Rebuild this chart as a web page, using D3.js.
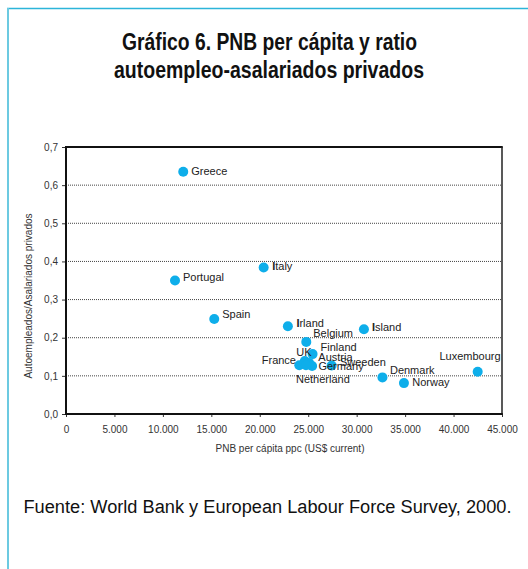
<!DOCTYPE html>
<html>
<head>
<meta charset="utf-8">
<script src="https://cdn.jsdelivr.net/npm/d3@7"></script>
<style>
  html, body { margin: 0; padding: 0; background: #fff; }
  svg { display: block; font-family: "Liberation Sans", Arial, sans-serif; }
</style>
</head>
<body>
<svg id="chart" width="528" height="569"></svg>
<script>
// GNP per capita (PPP, current US$) against the self-employed / private employees ratio
const countries = ["Greece", "Portugal", "Spain", "Italy", "Irland", "Island", "Belgium",
  "Finland", "UK", "France", "Austria", "Germany", "Netherland", "Sweeden",
  "Denmark", "Norway", "Luxembourg"];
const gnpPerCapita = [12100, 11250, 15300, 20400, 22900, 30750, 24800,
  25450, 24650, 24080, 25080, 25400, 24770, 27420,
  32660, 34880, 42490];
const selfEmployedRatio = [0.635, 0.350, 0.249, 0.384, 0.230, 0.222, 0.189,
  0.157, 0.139, 0.128, 0.134, 0.126, 0.128, 0.127,
  0.096, 0.081, 0.111];
const xTickValues = [0, 5000, 10000, 15000, 20000, 25000, 30000, 35000, 40000, 45000];
const xTickLabels = ["0", "5.000", "10.000", "15.000", "20.000", "25.000", "30.000", "35.000", "40.000", "45.000"];
const yTickValues = [0, 0.1, 0.2, 0.3, 0.4, 0.5, 0.6, 0.7];
const yTickLabels = ["0,0", "0,1", "0,2", "0,3", "0,4", "0,5", "0,6", "0,7"];

// Where each country name sits relative to its dot
const labelPlacement = {
  Greece:     { dx: 8,    dy: 3.5,  anchor: "start" },
  Portugal:   { dx: 8,    dy: 0,    anchor: "start" },
  Spain:      { dx: 8,    dy: -1,   anchor: "start" },
  Italy:      { dx: 8.5,  dy: 2.5,  anchor: "start" },
  Irland:     { dx: 8.5,  dy: 0.5,  anchor: "start" },
  Island:     { dx: 8,    dy: 1.5,  anchor: "start" },
  Belgium:    { dx: 7,    dy: -5,   anchor: "start" },
  Finland:    { dx: 8,    dy: -3,   anchor: "start" },
  UK:         { dx: 6.7,  dy: -5,   anchor: "end" },
  France:     { dx: -3.3, dy: -1,   anchor: "end" },
  Austria:    { dx: 9.3,  dy: -1.5, anchor: "start" },
  Germany:    { dx: 6.3,  dy: 4.5,  anchor: "start" },
  Netherland: { dx: -10,  dy: 18.3, anchor: "start" },
  Sweeden:    { dx: 8.3,  dy: 0.5,  anchor: "start" },
  Denmark:    { dx: 7.5,  dy: -3.5, anchor: "start" },
  Norway:     { dx: 8.3,  dy: 3,    anchor: "start" },
  Luxembourg: { dx: -7.7, dy: -11.7, anchor: "middle" }
};
const boldInitial = new Set(["Italy", "Irland", "Island"]);

const svg = d3.select("#chart");

// Page frame
svg.append("line").attr("x1", 7).attr("x2", 528).attr("y1", 8.5).attr("y2", 8.5)
  .attr("stroke", "#2cb5d9").attr("stroke-width", 1.6);
svg.append("line").attr("x1", 8).attr("x2", 8).attr("y1", 8).attr("y2", 569)
  .attr("stroke", "#6ccae1").attr("stroke-width", 2);

// Title
const titleLines = [
  { text: "Gráfico 6. PNB per cápita y ratio", x: 269.5, y: 50, w: 295 },
  { text: "autoempleo-asalariados privados", x: 269, y: 78, w: 310 }
];
svg.selectAll("text.title").data(titleLines).join("text")
  .attr("class", "title")
  .attr("x", d => d.x).attr("y", d => d.y)
  .attr("text-anchor", "middle")
  .attr("font-size", 23).attr("font-weight", "bold").attr("fill", "#111")
  .attr("textLength", d => d.w).attr("lengthAdjust", "spacingAndGlyphs")
  .text(d => d.text);

const plot = { left: 66, right: 502, top: 147, bottom: 414 };
const x = d3.scaleLinear().domain([0, 45000]).range([plot.left, plot.right]);
const y = d3.scaleLinear().domain([0, 0.7]).range([plot.bottom, plot.top]);

// Dotted horizontal gridlines
svg.append("g").selectAll("line")
  .data(yTickValues.filter(v => v > 0 && v < 0.7))
  .join("line")
  .attr("x1", plot.left).attr("x2", plot.right)
  .attr("y1", d => y(d)).attr("y2", d => y(d))
  .attr("stroke", "#444").attr("stroke-width", 1).attr("stroke-dasharray", "1,1");

// Axes
const xAxis = d3.axisBottom(x).tickValues(xTickValues)
  .tickFormat((d, i) => xTickLabels[i]).tickSize(3).tickSizeOuter(0);
const gx = svg.append("g").attr("transform", `translate(0,${plot.bottom})`).call(xAxis);
gx.select(".domain").remove();
gx.selectAll(".tick line").attr("stroke", "#333");
gx.selectAll(".tick text").attr("font-size", 10).attr("fill", "#333")
  .attr("font-family", "Liberation Sans, Arial, sans-serif").attr("dy", "1.25em");

const yAxis = d3.axisLeft(y).tickValues(yTickValues)
  .tickFormat((d, i) => yTickLabels[i]).tickSize(4).tickSizeOuter(0);
const gy = svg.append("g").attr("transform", `translate(${plot.left},0)`).call(yAxis);
gy.select(".domain").remove();
gy.selectAll(".tick line").attr("stroke", "#333");
gy.selectAll(".tick text").attr("font-size", 10).attr("fill", "#333")
  .attr("font-family", "Liberation Sans, Arial, sans-serif").attr("x", -8);

// Plot frame: heavy left/bottom/top, lighter right
svg.append("line").attr("x1", plot.left).attr("x2", plot.right + 0.75)
  .attr("y1", plot.top).attr("y2", plot.top).attr("stroke", "#111").attr("stroke-width", 2);
svg.append("line").attr("x1", plot.right).attr("x2", plot.right)
  .attr("y1", plot.top).attr("y2", plot.bottom).attr("stroke", "#222").attr("stroke-width", 1.5);
svg.append("line").attr("x1", plot.left).attr("x2", plot.right + 0.75)
  .attr("y1", plot.bottom).attr("y2", plot.bottom).attr("stroke", "#111").attr("stroke-width", 2);
svg.append("line").attr("x1", plot.left).attr("x2", plot.left)
  .attr("y1", plot.top - 1).attr("y2", plot.bottom + 1).attr("stroke", "#111").attr("stroke-width", 2);

// Axis titles
svg.append("text")
  .attr("x", (plot.left + plot.right) / 2 + 6).attr("y", 452)
  .attr("text-anchor", "middle").attr("font-size", 10).attr("fill", "#333")
  .text("PNB per cápita ppc (US$ current)");
svg.append("text")
  .attr("transform", "translate(32,296) rotate(-90)")
  .attr("text-anchor", "middle").attr("font-size", 10).attr("fill", "#333")
  .text("Autoempleados/Asalariados privados");

// Points
const points = countries.map((name, i) => ({ name, gnp: gnpPerCapita[i], ratio: selfEmployedRatio[i] }));
svg.append("g").selectAll("circle").data(points).join("circle")
  .attr("cx", d => x(d.gnp)).attr("cy", d => y(d.ratio)).attr("r", 5)
  .attr("fill", "#0eaeea");

// Country labels
const labels = svg.append("g").selectAll("text").data(points).join("text")
  .attr("x", d => x(d.gnp) + labelPlacement[d.name].dx)
  .attr("y", d => y(d.ratio) + labelPlacement[d.name].dy)
  .attr("text-anchor", d => labelPlacement[d.name].anchor)
  .attr("font-size", 11).attr("fill", "#222");
labels.each(function (d) {
  const t = d3.select(this);
  if (boldInitial.has(d.name)) {
    t.append("tspan").attr("font-weight", "bold").text(d.name[0]);
    t.append("tspan").text(d.name.slice(1));
  } else {
    t.text(d.name);
  }
});

// Source note
svg.append("text")
  .attr("x", 23.5).attr("y", 513)
  .attr("font-size", 18).attr("fill", "#111")
  .attr("textLength", 488).attr("lengthAdjust", "spacingAndGlyphs")
  .text("Fuente: World Bank y European Labour Force Survey, 2000.");
</script>
</body>
</html>
